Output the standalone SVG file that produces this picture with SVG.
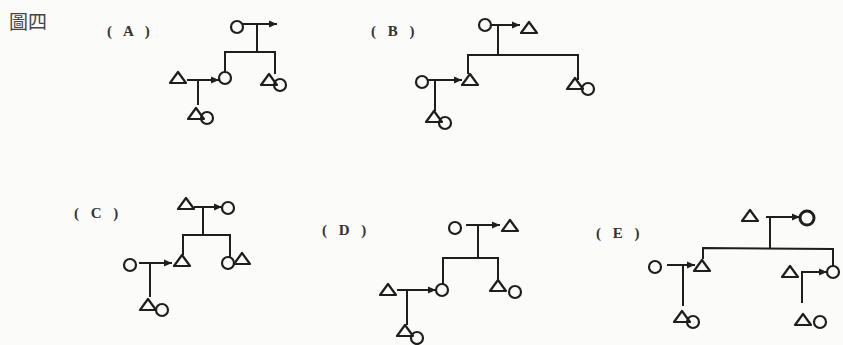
<svg xmlns="http://www.w3.org/2000/svg" xmlns:xlink="http://www.w3.org/1999/xlink" width="843" height="345" viewBox="0 0 843 345">
<style>
.bg{fill:#fbfbfa}
.ln{stroke:#1e1e1e;stroke-width:2;fill:none;stroke-linecap:square}
.lbl{font-family:"Liberation Serif",serif;font-size:15px;fill:#333;font-weight:bold;letter-spacing:4px}
.ttl{font-family:"Noto Sans CJK TC","Noto Sans CJK SC",sans-serif;font-size:19px;fill:#444}
</style>
<defs>
<marker id="ah" markerWidth="8" markerHeight="8" refX="7" refY="4" orient="auto" markerUnits="userSpaceOnUse">
<path d="M0,0.5 L8,4 L0,7.5 z" fill="#1e1e1e"/>
</marker>
<polygon id="tri" points="-8,5 8,5 0,-6" stroke="#1e1e1e" stroke-width="2.2" fill="none" stroke-linejoin="round"/>
<circle id="cir" r="6" stroke="#1e1e1e" stroke-width="2.2" fill="none"/>
</defs>
<rect class="bg" x="0" y="0" width="843" height="345"/>
<text class="ttl" x="9" y="29">圖四</text>
<text class="lbl" x="107" y="36" xml:space="preserve">( A )</text>
<text class="lbl" x="371" y="36" xml:space="preserve">( B )</text>
<text class="lbl" x="74" y="218" xml:space="preserve">( C )</text>
<text class="lbl" x="322" y="235" xml:space="preserve">( D )</text>
<text class="lbl" x="596" y="238" xml:space="preserve">( E )</text>

<g id="connectors">
<!-- A -->
<line class="ln" x1="243" y1="24" x2="276" y2="24" marker-end="url(#ah)"/>
<polyline class="ln" points="257,24 257,52"/>
<polyline class="ln" points="225,72 225,52 275,52 275,73"/>
<line class="ln" x1="188" y1="80" x2="218" y2="80" marker-end="url(#ah)"/>
<polyline class="ln" points="198,80 198,104"/>
<!-- B -->
<line class="ln" x1="491" y1="25" x2="519" y2="25" marker-end="url(#ah)"/>
<polyline class="ln" points="498,25 498,55"/>
<polyline class="ln" points="468,73 468,55 578,55 578,79"/>
<line class="ln" x1="428" y1="80" x2="461" y2="80" marker-end="url(#ah)"/>
<polyline class="ln" points="435,80 435,110"/>
<!-- C -->
<line class="ln" x1="195" y1="207" x2="221" y2="207" marker-end="url(#ah)"/>
<polyline class="ln" points="203,207 203,235"/>
<polyline class="ln" points="183,254 183,235 230,235 230,257"/>
<line class="ln" x1="140" y1="263" x2="171" y2="263" marker-end="url(#ah)"/>
<polyline class="ln" points="150,263 150,296"/>
<!-- D -->
<line class="ln" x1="467" y1="225" x2="499" y2="225" marker-end="url(#ah)"/>
<polyline class="ln" points="478,225 478,258"/>
<polyline class="ln" points="443,284 443,258 498,258 498,278"/>
<line class="ln" x1="398" y1="290" x2="435" y2="290" marker-end="url(#ah)"/>
<polyline class="ln" points="407,290 407,324"/>
<!-- E -->
<line class="ln" x1="767" y1="217" x2="799" y2="217" marker-end="url(#ah)"/>
<polyline class="ln" points="770,217 770,248"/>
<polyline class="ln" points="703,258 703,248 833,249 833,266"/>
<line class="ln" x1="668" y1="265" x2="694" y2="265" marker-end="url(#ah)"/>
<polyline class="ln" points="683,265 683,305"/>
<line class="ln" x1="802" y1="272" x2="826" y2="272" marker-end="url(#ah)"/>
<polyline class="ln" points="802,272 802,302"/>
</g>

<!-- A nodes -->
<g id="A1"><use xlink:href="#cir" x="237" y="27"/></g>
<g id="A2"><use xlink:href="#cir" x="225" y="78"/></g>
<g id="A3"><use xlink:href="#tri" x="269" y="80"/><use xlink:href="#cir" x="280" y="85"/></g>
<g id="A4"><use xlink:href="#tri" x="178" y="78"/></g>
<g id="A5"><use xlink:href="#tri" x="196" y="114"/><use xlink:href="#cir" x="207" y="118"/></g>
<!-- B nodes -->
<g id="B1"><use xlink:href="#cir" x="485" y="25"/></g>
<g id="B2"><use xlink:href="#tri" x="529" y="28"/></g>
<g id="B3"><use xlink:href="#tri" x="470" y="80"/></g>
<g id="B4"><use xlink:href="#tri" x="575" y="84"/><use xlink:href="#cir" x="588" y="89"/></g>
<g id="B5"><use xlink:href="#cir" x="422" y="82"/></g>
<g id="B6"><use xlink:href="#tri" x="434" y="117"/><use xlink:href="#cir" x="445" y="123"/></g>
<!-- C nodes -->
<g id="C1"><use xlink:href="#tri" x="186" y="204"/></g>
<g id="C2"><use xlink:href="#cir" x="228" y="208"/></g>
<g id="C3"><use xlink:href="#tri" x="182" y="261"/></g>
<g id="C4"><use xlink:href="#cir" x="228" y="263"/><use xlink:href="#tri" x="242" y="259"/></g>
<g id="C5"><use xlink:href="#cir" x="130" y="265"/></g>
<g id="C6"><use xlink:href="#tri" x="148" y="305"/><use xlink:href="#cir" x="162" y="310"/></g>
<!-- D nodes -->
<g id="D1"><use xlink:href="#cir" x="455" y="228"/></g>
<g id="D2"><use xlink:href="#tri" x="510" y="226"/></g>
<g id="D3"><use xlink:href="#cir" x="442" y="290"/></g>
<g id="D4"><use xlink:href="#tri" x="498" y="286"/><use xlink:href="#cir" x="515" y="292"/></g>
<g id="D5"><use xlink:href="#tri" x="388" y="290"/></g>
<g id="D6"><use xlink:href="#tri" x="405" y="331"/><use xlink:href="#cir" x="417" y="338"/></g>
<!-- E nodes -->
<g id="E1"><use xlink:href="#tri" x="750" y="216"/></g>
<g id="E2"><circle cx="807" cy="218" r="7" stroke="#1e1e1e" stroke-width="3" fill="none"/></g>
<g id="E3"><use xlink:href="#tri" x="702" y="266"/></g>
<g id="E4"><use xlink:href="#cir" x="833" y="272"/></g>
<g id="E5"><use xlink:href="#cir" x="655" y="267"/></g>
<g id="E6"><use xlink:href="#tri" x="682" y="317"/><use xlink:href="#cir" x="693" y="322"/></g>
<g id="E7"><use xlink:href="#tri" x="790" y="272"/></g>
<g id="E8"><use xlink:href="#tri" x="803" y="320"/><use xlink:href="#cir" x="820" y="322"/></g>
</svg>
